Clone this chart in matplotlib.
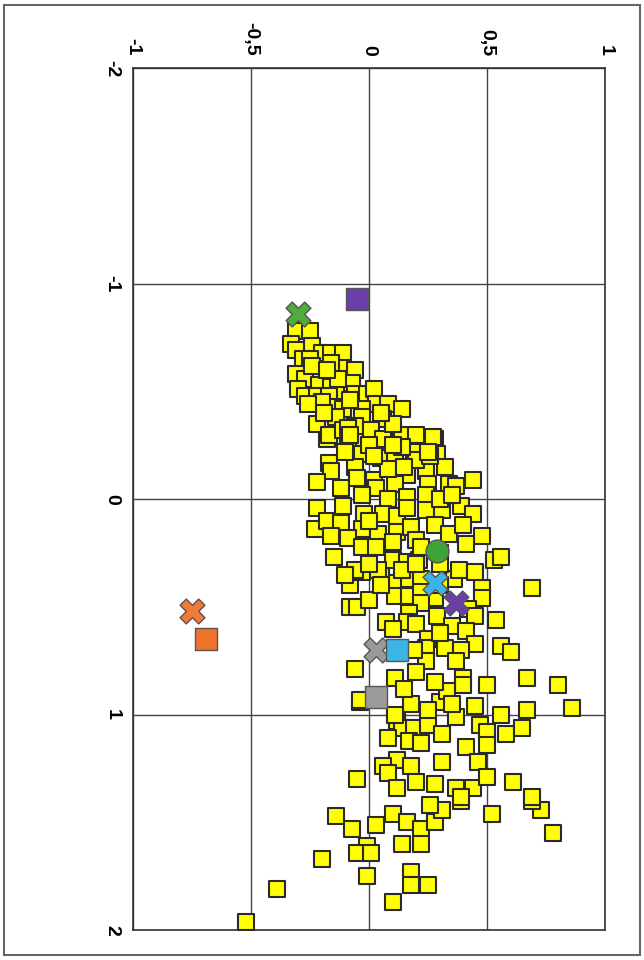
import matplotlib
matplotlib.use('Agg')
import matplotlib.pyplot as plt
from matplotlib.patches import Rectangle

# yellow cloud (x = horizontal value, y = vertical value, -2 at top)
cloud_x = [
    -0.14, -0.07, 0.03, 0.10, 0.16, 0.22, 0.28, 0.31, 0.26, 0.39, 0.52, 0.73, 0.69, 0.78,
    -0.01, -0.05, 0.01, 0.14, 0.22, -0.20, -0.01, 0.18, 0.18, 0.25, -0.39, 0.10, -0.52,
    -0.04, 0.18, 0.30, 0.45, 0.56, 0.67, 0.86, 0.12, 0.14, 0.19, 0.25, 0.31, 0.37, 0.47,
    0.50, 0.58, 0.65, 0.08, 0.17, 0.22, 0.41, 0.50, 0.12, 0.06, 0.08, 0.18, 0.31, 0.46,
    -0.05, 0.12, 0.20, 0.28, 0.37, 0.44, 0.50, 0.61, 0.39, 0.69,
    -0.08, -0.03, 0.05, 0.12, 0.17, 0.22, 0.36, 0.11, 0.17, 0.22, 0.28, 0.48, 0.48, 0.69,
    -0.08, -0.05, 0.00, 0.22, 0.17, 0.29, 0.42, 0.45, 0.07, 0.16, 0.20, 0.35, 0.41, 0.54,
    0.45, 0.25, 0.24, 0.32, 0.39, 0.56, 0.60, 0.24, 0.37, 0.19, -0.06, 0.11, 0.40, 0.40,
    0.50, 0.67, 0.80, 0.33, -0.04, 0.11,
    -0.18, -0.09, -0.02, 0.06, 0.13, 0.20, 0.28, -0.03, 0.05, 0.11, 0.19, 0.29, -0.17,
    -0.06, -0.16, 0.16, 0.24, 0.44, -0.22, -0.12, 0.02, 0.03, 0.11, 0.25, 0.34, 0.37,
    -0.03, 0.08, 0.16, 0.24, -0.22, -0.11, -0.02, 0.06, 0.12, 0.16, 0.24, 0.31, 0.39,
    0.44, -0.23, -0.18, -0.12, -0.16, -0.03, 0.04, 0.12, 0.18, 0.28, 0.34, 0.48, -0.09,
    -0.03, 0.03, 0.10, 0.20, 0.41, 0.53, 0.56, 0.10, 0.16, 0.21, -0.06, 0.04, 0.14, 0.38,
    0.45, -0.15,
    -0.31, -0.25, -0.33, -0.24, -0.20, -0.16, -0.31, -0.28, -0.25, -0.11, -0.22, -0.11,
    -0.16, -0.06, -0.31, -0.27, -0.21, -0.16, -0.12, -0.07, -0.30, -0.27, -0.22, -0.17,
    -0.06, -0.01, 0.02, 0.03, -0.16, -0.11, -0.03, 0.08, 0.14, -0.22, -0.14, -0.03, 0.06,
    -0.17, -0.11, -0.06, 0.01, 0.06, 0.14, 0.20, 0.27,
    -0.20, -0.08, -0.13, -0.24, 0.10, 0.00, -0.10, 0.20, 0.32, -0.05, 0.08, 0.30, 0.00,
    0.22, 0.30, 0.05, 0.30, -0.19, -0.09, 0.02, 0.14, 0.26, -0.26, -0.18,
    0.05, 0.10, -0.08, 0.15, 0.25, 0.35, 0.40, 0.20, 0.30, 0.00, -0.10, 0.10, 0.30,
    0.20, 0.28, 0.15, 0.35, 0.25,
]
cloud_y = [
    1.47, 1.53, 1.51, 1.46, 1.50, 1.53, 1.50, 1.44, 1.42, 1.40, 1.46, 1.44, 1.40, 1.55,
    1.61, 1.64, 1.64, 1.60, 1.60, 1.67, 1.75, 1.73, 1.79, 1.79, 1.81, 1.87, 1.96,
    0.94, 0.95, 0.94, 0.96, 1.00, 0.98, 0.97, 1.03, 1.06, 1.06, 1.05, 1.09, 1.01, 1.05,
    1.08, 1.09, 1.06, 1.11, 1.12, 1.13, 1.15, 1.14, 1.21, 1.24, 1.27, 1.24, 1.22, 1.22,
    1.30, 1.34, 1.31, 1.32, 1.34, 1.34, 1.29, 1.31, 1.38, 1.38,
    0.40, 0.34, 0.34, 0.39, 0.37, 0.37, 0.37, 0.45, 0.45, 0.43, 0.46, 0.41, 0.46, 0.41,
    0.50, 0.50, 0.47, 0.48, 0.53, 0.54, 0.51, 0.54, 0.57, 0.57, 0.58, 0.59, 0.61, 0.56,
    0.67, 0.65, 0.69, 0.69, 0.70, 0.68, 0.71, 0.75, 0.75, 0.70, 0.79, 0.83, 0.83, 0.86,
    0.86, 0.83, 0.86, 0.89, 0.93, 1.00,
    -0.28, -0.26, -0.28, -0.27, -0.28, -0.28, -0.28, -0.21, -0.19, -0.21, -0.22, -0.21, -0.17,
    -0.15, -0.13, -0.11, -0.13, -0.09, -0.08, -0.05, -0.09, -0.05, -0.07, -0.07, -0.07, -0.06,
    -0.02, 0.00, -0.01, -0.02, 0.04, 0.03, 0.07, 0.07, 0.08, 0.04, 0.05, 0.05, 0.03,
    0.07, 0.14, 0.10, 0.11, 0.17, 0.14, 0.16, 0.15, 0.13, 0.12, 0.16, 0.17, 0.18,
    0.22, 0.22, 0.20, 0.19, 0.21, 0.28, 0.27, 0.28, 0.29, 0.28, 0.33, 0.33, 0.33, 0.33,
    0.34, 0.27,
    -0.78, -0.78, -0.72, -0.71, -0.68, -0.68, -0.69, -0.65, -0.65, -0.68, -0.59, -0.61,
    -0.63, -0.60, -0.58, -0.56, -0.53, -0.52, -0.50, -0.54, -0.51, -0.48, -0.48, -0.48,
    -0.49, -0.49, -0.51, -0.44, -0.43, -0.42, -0.42, -0.44, -0.42, -0.35, -0.38, -0.38, -0.37,
    -0.30, -0.32, -0.34, -0.32, -0.28, -0.30, -0.30, -0.29,
    -0.45, -0.46, -0.56, -0.62, -0.35, -0.25, -0.22, -0.18, -0.15, -0.10, -0.14, 0.00, 0.10,
    0.22, 0.25, 0.40, 0.40, -0.40, -0.33, -0.20, -0.24, -0.20, -0.44, -0.60,
    -0.40, -0.25, -0.30, -0.15, -0.22, -0.02, 0.12, 0.30, 0.30, 0.30, 0.35, 0.60, 0.62,
    0.80, 0.85, 0.88, 0.95, 0.98,
]

# highlighted markers
special_labels = ['purple_sq', 'green_x', 'green_o', 'cyan_x', 'purple_x',
                  'orange_x', 'orange_sq', 'gray_x', 'cyan_sq', 'gray_sq']
special_x = [-0.05, -0.30, 0.29, 0.28, 0.37, -0.75, -0.69, 0.03, 0.12, 0.03]
special_y = [-0.93, -0.86, 0.24, 0.39, 0.48, 0.52, 0.65, 0.70, 0.70, 0.92]
special_marker = ['s', 'X', 'o', 'X', 'X', 'X', 's', 'X', 's', 's']
special_color = ['#6a40a8', '#4fae3a', '#3fa33a', '#3cb4e6', '#6a40a8',
                 '#f07a3a', '#f0702e', '#9a9a9a', '#3cb4e6', '#9a9a9a']

x_ticks = [-1, -0.5, 0, 0.5, 1]
x_labels = ['-1', '-0,5', '0', '0,5', '1']
y_ticks = [-2, -1, 0, 1, 2]
y_labels = ['-2', '-1', '0', '1', '2']

plt.rcParams['font.family'] = ['Liberation Sans', 'DejaVu Sans']

fig = plt.figure(figsize=(6.44, 9.6), dpi=100)
ax = fig.add_axes([0.2065, 0.031, 0.733, 0.898])

ax.scatter(cloud_x, cloud_y, marker='s', s=130, c='#ffff00',
           edgecolors='#2a2a2a', linewidths=1.5, zorder=3)

for lab, x, y, m, col in zip(special_labels, special_x, special_y,
                             special_marker, special_color):
    size = 320 if m == 'X' else 270
    ax.scatter([x], [y], marker=m, s=size, c=col, edgecolors='#555555',
               linewidths=1.0, zorder=4)

ax.set_xlim(-1, 1)
ax.set_ylim(2, -2)
ax.set_xticks(x_ticks)
ax.set_yticks(y_ticks)
ax.xaxis.tick_top()
ax.set_xticklabels(x_labels, rotation=-90, fontsize=14, fontweight='bold')
ax.set_yticklabels(y_labels, rotation=-90, fontsize=14, fontweight='bold', va='center')
ax.tick_params(length=0, pad=9)

ax.grid(True, color='#444444', linewidth=1.0, zorder=1)
ax.set_axisbelow(True)
for sp in ax.spines.values():
    sp.set_color('#333333')
    sp.set_linewidth(1.2)

fig.patches.append(Rectangle((0.006, 0.005), 0.988, 0.99, transform=fig.transFigure,
                             fill=False, edgecolor='#666666', linewidth=1.5))

fig.savefig('out.png', dpi=100, facecolor='white')
